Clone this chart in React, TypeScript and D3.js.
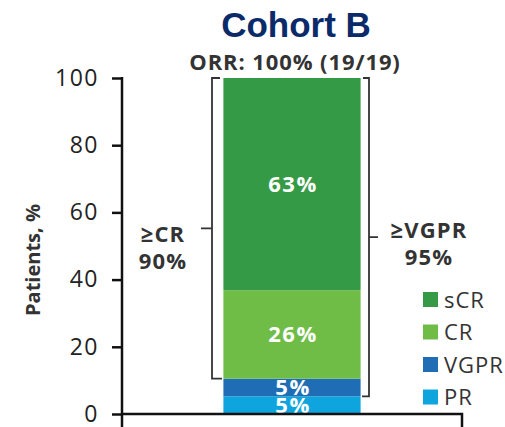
import React, { useEffect, useRef } from 'react';
import * as d3 from 'd3';

// response categories, bottom to top
const categories = ['PR', 'VGPR', 'CR', 'sCR'];
const values = [5.26, 5.26, 26.32, 63.16];
const valueLabels = ['5%', '5%', '26%', '63%'];
const colors = ['#0ea5df', '#1f6db5', '#6fbd47', '#359a45'];
const legendOrder = ['sCR', 'CR', 'VGPR', 'PR'];
const yTicks = [0, 20, 40, 60, 80, 100];

const FONT = '"Open Sans", sans-serif';

const App = () => {
  const svgRef = useRef<SVGSVGElement>(null);

  useEffect(() => {
    const svg = d3.select(svgRef.current)
      .attr('width', 505)
      .attr('height', 427);
    svg.selectAll('*').remove();

    const y = d3.scaleLinear().domain([0, 100]).range([414, 78]);
    const x = d3.scaleBand().domain(['Cohort B']).range([122, 462]).padding(0.425);
    const bx = x('Cohort B')!;
    const bw = x.bandwidth();

    // title
    svg.append('text')
      .attr('x', 296).attr('y', 37)
      .attr('text-anchor', 'middle')
      .style('font-family', 'Arial, "Liberation Sans", sans-serif')
      .style('font-size', '35px').style('font-weight', '700')
      .style('fill', '#0b2a6a')
      .text('Cohort B');

    svg.append('text')
      .attr('x', 295).attr('y', 70)
      .attr('text-anchor', 'middle')
      .style('font-family', FONT)
      .style('font-size', '22px').style('font-weight', '700')
      .style('letter-spacing', '0.9px')
      .style('fill', '#333')
      .text('ORR: 100% (19/19)');

    // stacked bar
    let acc = 0;
    const segs = values.map((v, i) => {
      const s = { y0: acc, y1: acc + v, i };
      acc += v;
      return s;
    });

    svg.append('g').selectAll('rect')
      .data(segs)
      .join('rect')
      .attr('x', bx)
      .attr('width', bw)
      .attr('y', d => y(d.y1))
      .attr('height', d => y(d.y0) - y(d.y1))
      .attr('fill', d => colors[d.i]);

    svg.append('g').selectAll('text')
      .data(segs)
      .join('text')
      .attr('x', bx + bw / 2 + 1)
      .attr('y', d => (y(d.y0) + y(d.y1)) / 2 + 8)
      .attr('text-anchor', 'middle')
      .style('font-family', FONT)
      .style('font-size', '22px').style('font-weight', '700')
      .style('letter-spacing', '1.5px')
      .style('fill', '#fff')
      .text(d => valueLabels[d.i]);

    // axes
    const yAxis = svg.append('g').attr('transform', 'translate(122,0)')
      .call(d3.axisLeft(y).tickValues(yTicks).tickSize(10).tickPadding(13));
    yAxis.select('.domain').remove();
    yAxis.selectAll('line').attr('stroke', '#111').attr('stroke-width', 2.5);
    yAxis.selectAll('text')
      .style('font-family', FONT).style('font-size', '23px')
      .style('letter-spacing', '1.5px')
      .style('fill', '#222');

    svg.append('line')
      .attr('x1', 122).attr('x2', 122).attr('y1', y(100) - 1).attr('y2', 427)
      .attr('stroke', '#111').attr('stroke-width', 2.5);
    svg.append('path')
      .attr('d', `M121,${y(0)}H462V427`)
      .attr('fill', 'none')
      .attr('stroke', '#111').attr('stroke-width', 2.5);

    svg.append('text')
      .attr('transform', `translate(40,${(y(0) + y(100)) / 2 + 14}) rotate(-90)`)
      .attr('text-anchor', 'middle')
      .style('font-family', FONT)
      .style('font-size', '20px').style('font-weight', '700')
      .style('fill', '#333')
      .text('Patients, %');

    // brackets
    const crTop = y(100), crBot = y(segs[1].y1);
    const crMid = (crTop + crBot) / 2;
    svg.append('path')
      .attr('d', `M220,${crTop}H212V${crBot}H222M212,${crMid}H201`)
      .attr('fill', 'none').attr('stroke', '#333').attr('stroke-width', 1.8);

    const vgTop = y(100), vgBot = y(segs[0].y1);
    const vgMid = (vgTop + vgBot) / 2;
    svg.append('path')
      .attr('d', `M363,${vgTop}H369V${vgBot}H362M369,${vgMid}H378`)
      .attr('fill', 'none').attr('stroke', '#333').attr('stroke-width', 1.8);

    const bracketLabel = (cx: number, lines: string[], top: number) => {
      lines.forEach((t, i) => {
        svg.append('text')
          .attr('x', cx).attr('y', top + i * 27)
          .attr('text-anchor', 'middle')
          .style('font-family', FONT)
          .style('font-size', '22px').style('font-weight', '700')
          .style('letter-spacing', '1.2px')
          .style('fill', '#333')
          .text(t);
      });
    };
    bracketLabel(163, ['≥CR', '90%'], 242);
    bracketLabel(429, ['≥VGPR', '95%'], 238);

    // legend
    const leg = svg.append('g').selectAll('g')
      .data(legendOrder)
      .join('g')
      .attr('transform', (d, i) => `translate(423,${292 + i * 32.5})`);
    leg.append('rect')
      .attr('width', 15).attr('height', 15)
      .attr('fill', d => colors[categories.indexOf(d)]);
    leg.append('text')
      .attr('x', 21).attr('y', 15.5)
      .style('font-family', FONT).style('font-size', '22px')
      .style('letter-spacing', '1px')
      .style('fill', '#333')
      .text(d => d);
  }, []);

  return <svg ref={svgRef} style={{ position: 'absolute', left: 0, top: 0 }}></svg>;
};

export default App;
